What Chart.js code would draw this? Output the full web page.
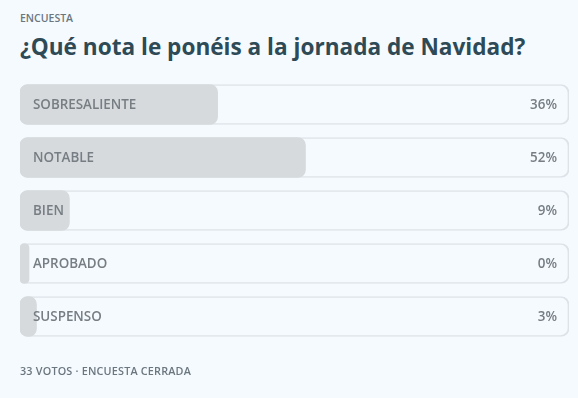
<!DOCTYPE html>
<html lang="es">
<head>
  <meta charset="UTF-8" />
  <title>Encuesta</title>
  <script src="https://cdn.jsdelivr.net/npm/chart.js"></script>
  <style>
    html, body { margin: 0; padding: 0; background: #f4fafe; }
    body { width: 578px; height: 398px; position: relative; overflow: hidden; font-family: "Open Sans", "Noto Sans", sans-serif; }
    .kicker { position: absolute; left: 20px; top: 11px; font-size: 10.5px; color: #6b767e; font-weight: 600; }
    h1 { position: absolute; left: 20px; top: 31px; margin: 0; font-size: 22.6px; font-weight: 700; color: #2e4a56; }
    .foot { position: absolute; left: 20px; top: 363px; font-size: 10.8px; color: #6b767e; font-weight: 600; letter-spacing: 0.2px; }
    #wrap { position: absolute; left: 0; top: 0; width: 578px; height: 398px; }
  </style>
</head>
<body>
  <div class="kicker">ENCUESTA</div>
  <h1>¿Qué nota le ponéis a la jornada de Navidad?</h1>
  <div id="wrap"><canvas id="poll"></canvas></div>
  <div class="foot">33 VOTOS · ENCUESTA CERRADA</div>

  <script>
    const options = ["SOBRESALIENTE", "NOTABLE", "BIEN", "APROBADO", "SUSPENSO"];
    const percents = [36, 52, 9, 0, 3];
    const track = [100, 100, 100, 100, 100];

    // draws option name and percentage inside each row
    const rowLabels = {
      id: "rowLabels",
      afterDatasetsDraw(chart) {
        const ctx = chart.ctx;
        const meta = chart.getDatasetMeta(0);
        const area = chart.chartArea;
        ctx.save();
        ctx.font = "600 13.4px 'Open Sans', 'Noto Sans', sans-serif";
        ctx.fillStyle = "#767d83";
        ctx.textBaseline = "middle";
        meta.data.forEach((bar, i) => {
          ctx.textAlign = "left";
          ctx.fillText(options[i], area.left + 13, bar.y + 1);
          ctx.textAlign = "right";
          ctx.fillText(percents[i] + "%", area.right - 12, bar.y + 1);
        });
        ctx.restore();
      }
    };

    new Chart(document.getElementById("poll"), {
      type: "bar",
      data: {
        labels: options,
        datasets: [
          {
            label: "Votos",
            data: percents,
            backgroundColor: "#d6dadd",
            borderWidth: 0,
            borderRadius: 8,
            borderSkipped: false,
            minBarLength: 9,
            barThickness: 40,
            grouped: false,
            order: 1
          },
          {
            label: "Total",
            data: track,
            backgroundColor: "rgba(0,0,0,0)",
            borderColor: "#dde3e8",
            borderWidth: 1,
            borderRadius: 8,
            borderSkipped: false,
            barThickness: 40,
            grouped: false,
            order: 2
          }
        ]
      },
      options: {
        indexAxis: "y",
        responsive: true,
        maintainAspectRatio: false,
        animation: false,
        layout: { padding: { left: 20, right: 9, top: 78, bottom: 55 } },
        plugins: {
          legend: { display: false },
          tooltip: { enabled: false }
        },
        scales: {
          x: { display: false, min: 0, max: 100 },
          y: { display: false }
        }
      },
      plugins: [rowLabels]
    });
  </script>
</body>
</html>
